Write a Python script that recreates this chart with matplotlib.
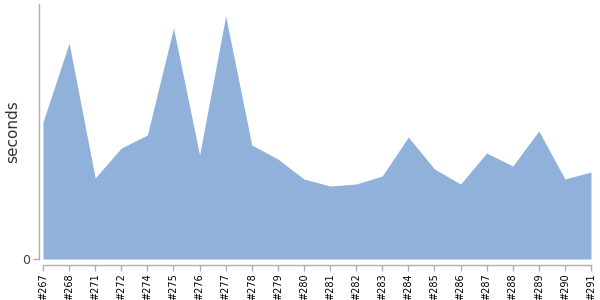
import matplotlib
matplotlib.use("Agg")
import matplotlib.pyplot as plt
import numpy as np

# Build numbers and durations (seconds)
builds = ["#267", "#268", "#271", "#272", "#274", "#275", "#276", "#277", "#278", "#279", "#280",
          "#281", "#282", "#283", "#284", "#285", "#286", "#287", "#288", "#289", "#290", "#291"]
seconds = [13.7, 21.6, 8.1, 11.1, 12.4, 23.1, 10.4, 24.3, 11.4, 10.0, 8.0,
           7.3, 7.5, 8.3, 12.2, 9.0, 7.5, 10.6, 9.3, 12.8, 8.0, 8.7]
y_max = 25.5

fig = plt.figure(figsize=(6, 3), dpi=100)
ax = fig.add_axes([43 / 600, 41 / 300, 548 / 600, 255 / 300])

x = np.arange(len(builds))
ax.fill_between(x, 0, seconds, color="#8fb1da", linewidth=0)

ax.set_xlim(0, len(builds) - 1)
ax.set_ylim(0, y_max)

ax.spines["top"].set_visible(False)
ax.spines["right"].set_visible(False)
for side in ("left", "bottom"):
    ax.spines[side].set_color("#b0b0b0")
    ax.spines[side].set_linewidth(1)
ax.spines["left"].set_position(("outward", 3))
ax.spines["bottom"].set_position(("outward", 4))

ax.set_xticks(x)
ax.set_xticklabels(builds, rotation=90, fontsize=7, color="black")
ax.set_yticks([0])
ax.set_yticklabels(["0"], fontsize=9, color="#444444")
ax.tick_params(axis="both", color="#b0b0b0", length=4, width=1, pad=2)

ax.set_ylabel("seconds", fontsize=11, color="#333333")
ax.yaxis.set_label_coords(-0.042, 0.5)

fig.savefig("out.png", dpi=100)
